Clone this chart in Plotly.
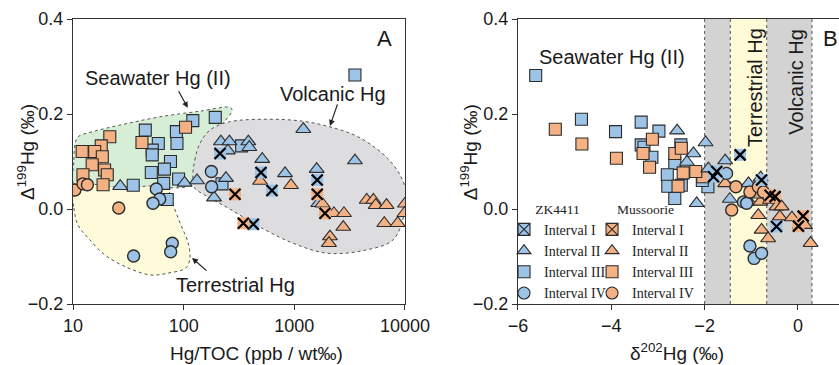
import math
import plotly.graph_objects as go

# ---------------- DATA ----------------
# Panel A: Hg/TOC (ppb / wt‰) vs Δ199Hg (‰)
zk_I_toc = [213, 500, 628, 1611, 426]
zk_I_d199 = [0.117, 0.077, 0.039, 0.061, -0.032]
zk_II_toc = [26.7, 102, 132, 217, 259, 251, 384, 392, 513, 824, 1206, 1592, 3530, 188, 241, 1645]
zk_II_d199 = [0.048, 0.055, 0.060, 0.142, 0.142, 0.123, 0.142, 0.130, 0.105, 0.075, 0.168, 0.084, 0.102, 0.024, 0.065, 0.012]
zk_III_toc = [121, 193, 45, 86, 59, 87, 52, 52, 76, 67, 51, 90, 66, 35, 71, 222, 3530, 334]
zk_III_d199 = [0.186, 0.193, 0.166, 0.163, 0.138, 0.138, 0.124, 0.114, 0.100, 0.084, 0.077, 0.063, 0.054, 0.050, 0.020, 0.053, 0.282, 0.133]
zk_IV_toc = [56.6, 60.7, 52.8, 78.9, 76.3, 35.3, 178, 179]
zk_IV_d199 = [0.042, 0.021, 0.012, -0.072, -0.090, -0.099, 0.079, 0.047]
mu_I_toc = [291, 1611, 1893, 346]
mu_I_d199 = [0.031, 0.031, -0.009, -0.030]
mu_II_toc = [490, 933, 1790, 2280, 2810, 2770, 2100, 2055, 4510, 5180, 5440, 6810, 6500, 8590, 10000, 9890]
mu_II_d199 = [0.059, 0.050, 0.011, -0.009, -0.009, -0.038, -0.058, -0.072, 0.019, 0.019, 0.008, 0.008, -0.030, -0.030, 0.011, -0.009]
mu_III_toc = [21.5, 18, 15.7, 12.1, 18.4, 14.9, 19.3, 20.4, 12.3, 18.7, 42, 104]
mu_III_d199 = [0.152, 0.133, 0.121, 0.121, 0.110, 0.093, 0.082, 0.072, 0.072, 0.051, 0.140, 0.172]
mu_IV_toc = [10.4, 12.3, 13.5, 25.9]
mu_IV_d199 = [0.040, 0.053, 0.051, 0.002]

# Panel B: δ202Hg (‰) vs Δ199Hg (‰)
zk_I_d202 = [-1.74, -1.81, -1.24, -0.78, -0.46]
zk_I_b199 = [0.079, 0.068, 0.114, 0.061, -0.037]
zk_II_d202 = [-2.59, -2.24, -2.38, -1.98, -1.56, -2.17, -1.46, -1.06, -0.80, -1.92]
zk_II_b199 = [0.165, 0.117, 0.099, 0.140, 0.102, 0.012, 0.021, 0.054, 0.066, 0.085]
zk_III_d202 = [-5.62, -4.64, -3.91, -3.36, -2.98, -3.36, -3.30, -3.13, -2.64, -2.80, -2.79, -2.50, -2.64, -2.51, -1.93, -2.05]
zk_III_b199 = [0.281, 0.189, 0.163, 0.183, 0.164, 0.135, 0.130, 0.109, 0.096, 0.072, 0.048, 0.050, 0.022, 0.135, 0.047, 0.060]
zk_IV_d202 = [-1.53, -1.17, -1.10, -1.03, -0.94, -0.78]
zk_IV_b199 = [0.075, 0.015, 0.012, -0.078, -0.104, -0.093]
mu_I_d202 = [-0.60, -0.49, 0.11, 0.01]
mu_I_b199 = [0.029, 0.026, -0.015, -0.036]
mu_II_d202 = [-1.56, -1.04, -0.81, -0.60, -0.46, -0.35, -0.85, -0.39, -0.13, 0.04, 0.15, -0.78, -0.64, 0.27, -0.88]
mu_II_b199 = [0.054, 0.015, 0.015, 0.019, 0.005, 0.005, -0.013, -0.016, -0.018, -0.034, -0.034, -0.044, -0.062, -0.072, 0.030]
mu_III_d202 = [-5.20, -4.63, -3.89, -3.12, -3.32, -3.18, -2.64, -2.50, -2.46, -2.57, -2.04, -2.19]
mu_III_b199 = [0.168, 0.137, 0.107, 0.147, 0.117, 0.088, 0.117, 0.128, 0.076, 0.048, 0.068, 0.079]
mu_IV_d202 = [-1.33, -1.42, -1.03, -0.85, -0.74]
mu_IV_b199 = [0.047, -0.002, 0.036, 0.047, 0.036]

# Source fields in panel A (outline points: Hg/TOC, Δ199Hg)
seawater_toc = [10.4, 10.2, 10.4, 11.1, 15.2, 29.5, 61, 141, 262, 274, 227, 180, 150, 132, 119, 109, 50, 21.6]
seawater_d199 = [0.048, 0.103, 0.135, 0.152, 0.163, 0.179, 0.194, 0.206, 0.214, 0.208, 0.181, 0.160, 0.131, 0.091, 0.061, 0.048, 0.046, 0.046]
terrestrial_toc = [10.2, 10.2, 11.1, 13.7, 19.5, 31.4, 50.7, 72, 105, 114, 109, 94.6, 81.8, 75.2, 72, 26.6]
terrestrial_d199 = [0.048, 0.002, -0.034, -0.061, -0.097, -0.124, -0.139, -0.135, -0.124, -0.103, -0.069, -0.034, 0.004, 0.029, 0.044, 0.046]
volcanic_toc = [121, 126, 141, 173, 252, 578, 1173, 2100, 3760, 6590, 9010, 10400, 9800, 7800, 4090, 1970, 973, 490, 252, 156, 126]
volcanic_d199 = [0.065, 0.103, 0.139, 0.166, 0.183, 0.189, 0.185, 0.173, 0.152, 0.112, 0.072, 0.029, -0.013, -0.065, -0.088, -0.093, -0.072, -0.038, 0.002, 0.029, 0.044]

# Source bands in panel B (δ202Hg limits)
band_gray1 = [-2.0, -1.45]
band_terrestrial = [-1.45, -0.67]
band_volcanic = [-0.67, 0.30]

y_ticks = [-0.2, 0.0, 0.2, 0.4]
toc_ticks = [10, 100, 1000, 10000]
d202_ticks = [-6, -4, -2, 0]

# ---------------- STYLE ----------------
BLUE = "#9dc3e6"
ORANGE = "#f4b183"
EDGE = "#2b2b2b"
SANS = "Liberation Sans, Arial, sans-serif"
SERIF = "Liberation Serif, Times New Roman, serif"

fig = go.Figure()

def region(xs, ys, color):
    fig.add_trace(go.Scatter(
        x=xs + xs[:1], y=ys + ys[:1], mode="lines", fill="toself", fillcolor=color,
        line=dict(color="#555555", width=1, dash="dot", shape="spline", smoothing=1.0),
        showlegend=False, hoverinfo="skip", xaxis="x", yaxis="y"))

region(seawater_toc, seawater_d199, "#d7eed6")
region(terrestrial_toc, terrestrial_d199, "#fdfbd9")
region(volcanic_toc, volcanic_d199, "#dddde0")

def pts(x, y, symbol, color, size, ax, line_w=1.1):
    fig.add_trace(go.Scatter(
        x=x, y=y, mode="markers",
        marker=dict(symbol=symbol, color=color, size=size, line=dict(color=EDGE, width=line_w)),
        showlegend=False, hoverinfo="skip",
        xaxis="x" if ax == 1 else "x2", yaxis="y" if ax == 1 else "y2"))

def xmark(x, y, color, ax):
    xa = "x" if ax == 1 else "x2"
    ya = "y" if ax == 1 else "y2"
    fig.add_trace(go.Scatter(x=x, y=y, mode="markers",
                             marker=dict(symbol="square", color=color, size=12, line=dict(width=0)),
                             showlegend=False, hoverinfo="skip", xaxis=xa, yaxis=ya))
    fig.add_trace(go.Scatter(x=x, y=y, mode="markers",
                             marker=dict(symbol="x-thin-open", color="black", size=11,
                                         line=dict(color="black", width=2.2)),
                             showlegend=False, hoverinfo="skip", xaxis=xa, yaxis=ya))

for ax, data in [
    (1, dict(zI=(zk_I_toc, zk_I_d199), zII=(zk_II_toc, zk_II_d199), zIII=(zk_III_toc, zk_III_d199),
             zIV=(zk_IV_toc, zk_IV_d199), mI=(mu_I_toc, mu_I_d199), mII=(mu_II_toc, mu_II_d199),
             mIII=(mu_III_toc, mu_III_d199), mIV=(mu_IV_toc, mu_IV_d199))),
    (2, dict(zI=(zk_I_d202, zk_I_b199), zII=(zk_II_d202, zk_II_b199), zIII=(zk_III_d202, zk_III_b199),
             zIV=(zk_IV_d202, zk_IV_b199), mI=(mu_I_d202, mu_I_b199), mII=(mu_II_d202, mu_II_b199),
             mIII=(mu_III_d202, mu_III_b199), mIV=(mu_IV_d202, mu_IV_b199))),
]:
    pts(*data["zIII"], "square", BLUE, 12, ax)
    pts(*data["mIII"], "square", ORANGE, 12, ax)
    pts(*data["zII"], "triangle-up", BLUE, 13, ax)
    pts(*data["mII"], "triangle-up", ORANGE, 13, ax)
    pts(*data["zIV"], "circle", BLUE, 12, ax, line_w=1.4)
    pts(*data["mIV"], "circle", ORANGE, 12, ax, line_w=1.4)
    xmark(*data["zI"], BLUE, ax)
    xmark(*data["mI"], ORANGE, ax)

# legend entries
def leg(name, symbol, color, legend, size=12):
    fig.add_trace(go.Scatter(x=[None], y=[None], mode="markers", name=name,
                             marker=dict(symbol=symbol, color=color, size=size,
                                         line=dict(color=EDGE, width=1.1)),
                             legend=legend, xaxis="x2", yaxis="y2", hoverinfo="skip"))

for lg, col in [("legend", BLUE), ("legend2", ORANGE)]:
    leg("Interval I", "square-x", col, lg)
    leg("Interval II", "triangle-up", col, lg)
    leg("Interval III", "square", col, lg)
    leg("Interval IV", "circle", col, lg)

# ---------------- LAYOUT ----------------
axis_common = dict(showline=True, linecolor="#333333", linewidth=1.3, ticks="outside",
                   ticklen=5, tickwidth=1.2, tickcolor="#333333", showgrid=False, zeroline=False,
                   tickfont=dict(family=SANS, size=18, color="#1a1a1a"), automargin=False)

legend_common = dict(xanchor="left", y=0.378, yanchor="top", bgcolor="rgba(0,0,0,0)",
                     font=dict(family=SERIF, size=14, color="#222"), itemsizing="trace")

fig.update_layout(
    width=839, height=365,
    margin=dict(l=73, r=0, t=19, b=61, autoexpand=False),
    paper_bgcolor="white", plot_bgcolor="white",
    font=dict(family=SANS, color="#1a1a1a"),
    xaxis=dict(domain=[0, 0.4334], type="log", range=[1, 4], tickvals=toc_ticks,
               ticktext=[str(v) for v in toc_ticks], mirror=True, anchor="y", **axis_common),
    yaxis=dict(domain=[0, 1], range=[-0.2, 0.4], tickvals=y_ticks, tickformat=".1f",
               mirror=True, anchor="x", **axis_common),
    xaxis2=dict(domain=[0.5809, 1], range=[-6, 0.879], tickvals=d202_ticks,
                mirror=True, anchor="y2", **axis_common),
    yaxis2=dict(domain=[0, 1], range=[-0.2, 0.4], tickvals=y_ticks, tickformat=".1f",
                anchor="x2", **axis_common),
    legend=dict(title=dict(text="ZK4411", side="top center", font=dict(family=SERIF, size=13.5)),
                x=0.5627, **legend_common),
    legend2=dict(title=dict(text="Mussoorie", side="top center", font=dict(family=SERIF, size=13.5)),
                 x=0.6776, **legend_common),
)

# bands in panel B
for (x0, x1), col in [(band_gray1, "#d3d3d3"), (band_terrestrial, "#fffbd9"), (band_volcanic, "#d3d3d3")]:
    fig.add_shape(type="rect", xref="x2", yref="y2 domain", x0=x0, x1=x1, y0=0, y1=1,
                  fillcolor=col, line=dict(width=0), layer="below")
for xv in [band_gray1[0], band_gray1[1], band_terrestrial[1], band_volcanic[1]]:
    fig.add_shape(type="line", xref="x2", yref="y2 domain", x0=xv, x1=xv, y0=0, y1=1,
                  line=dict(color="#555555", width=1, dash="dot"), layer="below")

def txt(text, x, y, size=20, angle=0, family=SANS):
    fig.add_annotation(text=text, x=x, y=y, xref="paper", yref="paper", showarrow=False,
                       xanchor="center", yanchor="middle", textangle=angle,
                       font=dict(family=family, size=size, color="#1a1a1a"))

txt("Seawater Hg (II)", 0.111, 0.793)
txt("Volcanic Hg", 0.3388, 0.737)
txt("Terrestrial Hg", 0.2121, 0.0667)
txt("A", 0.4073, 0.933, size=22)
txt("Seawater Hg (II)", 0.7037, 0.8667)
txt("Terrestrial Hg", 0.8897, 0.7596, angle=-90)
txt("Volcanic Hg", 0.9439, 0.78, angle=-90)
txt("B", 0.9889, 0.933, size=22)
txt("Hg/TOC (ppb / wt‰)", 0.2395, -0.172, size=19)
txt("δ<sup>202</sup>Hg (‰)", 0.7885, -0.168, size=19)
txt("Δ<sup>199</sup>Hg (‰)", -0.0607, 0.5316, size=19, angle=-90)
txt("Δ<sup>199</sup>Hg (‰)", 0.518, 0.5316, size=19, angle=-90)

# arrows (head in data coords of panel A; log axis uses log10 for annotations)
for hx, hy, ax_, ay_ in [(109, 0.213, -10, -18), (2100, 0.175, 8, -23), (119, -0.103, 16, 14)]:
    fig.add_annotation(x=math.log10(hx), y=hy, xref="x", yref="y", text="", showarrow=True,
                       ax=ax_, ay=ay_, arrowhead=2, arrowsize=1, arrowwidth=1.2, arrowcolor="#222")

fig.write_html("out.html")
